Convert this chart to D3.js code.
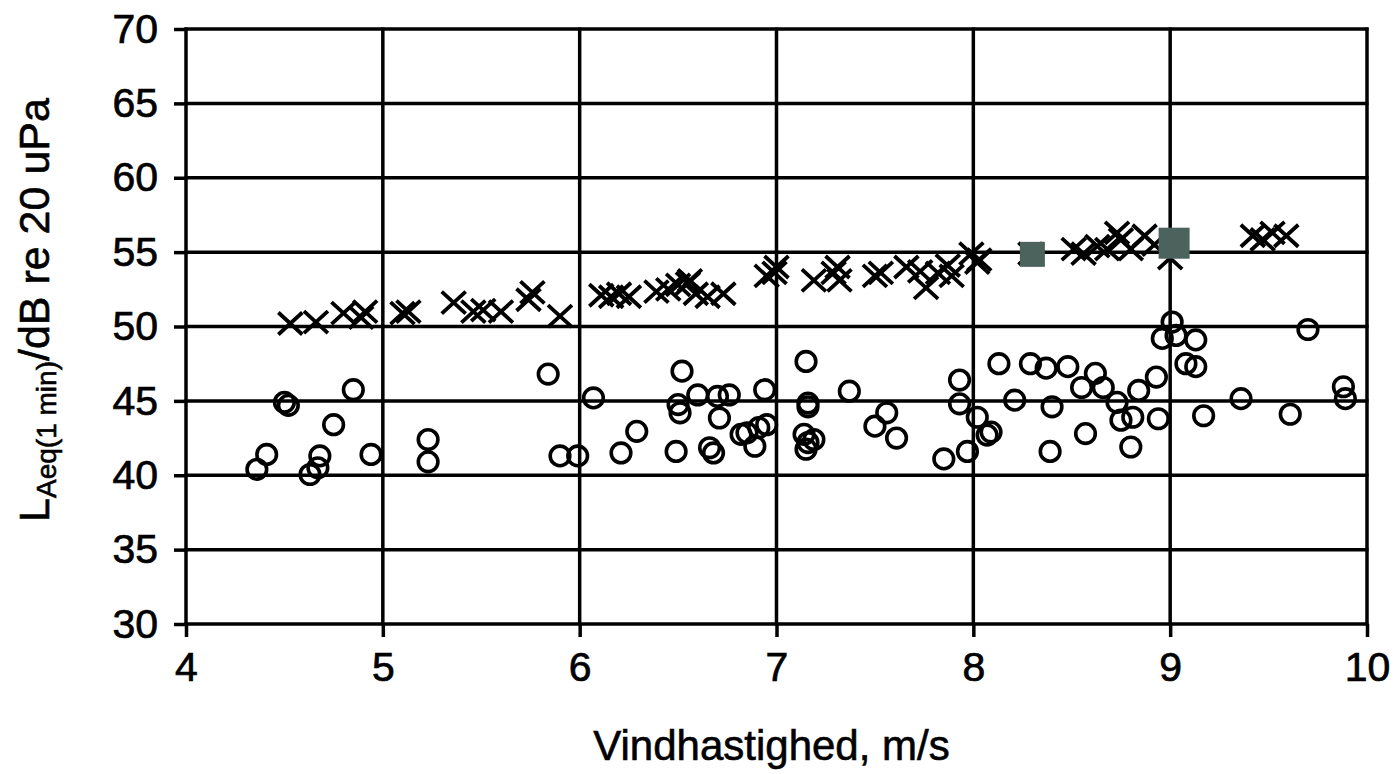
<!DOCTYPE html>
<html>
<head>
<meta charset="utf-8">
<script src="https://cdn.jsdelivr.net/npm/d3@7"></script>
<style>
  html, body { margin: 0; padding: 0; background: #fff; }
  svg { display: block; font-family: "Liberation Sans", Arial, sans-serif; }
</style>
</head>
<body>
<div id="chart"></div>
<script>
// wind speed (m/s) / level (dB)
const crossX = [4.53, 4.66, 4.80, 4.89, 4.91, 5.10, 5.13, 5.36, 5.46, 5.51, 5.60, 5.74, 5.76, 5.90,
  6.11, 6.16, 6.20, 6.25, 6.39, 6.45, 6.50, 6.55, 6.56, 6.59, 6.65, 6.73, 6.95, 6.99, 7.00,
  7.19, 7.29, 7.31, 7.32, 7.50, 7.53, 7.66, 7.73, 7.76, 7.82, 7.87, 7.89, 7.99, 8.02, 8.03,
  8.29, 8.51, 8.56, 8.63, 8.68, 8.73, 8.75, 8.80, 8.87, 8.92, 9.00, 9.42, 9.47, 9.52, 9.59];
const crossY = [50.2, 50.3, 50.9, 50.6, 51.0, 50.9, 51.0, 51.6, 51.0, 51.1, 51.0, 51.8, 52.3, 50.7,
  52.1, 52.0, 52.2, 52.0, 52.35, 52.5, 52.8, 52.9, 53.1, 52.2, 52.0, 52.2, 53.4, 53.6, 54.0,
  53.1, 53.6, 54.0, 53.1, 53.4, 53.6, 54.0, 53.7, 52.6, 53.6, 54.1, 53.4, 54.9, 54.3, 54.5,
  54.9, 55.2, 54.9, 55.4, 55.2, 56.3, 55.85, 55.2, 56.1, 55.5, 54.6, 56.1, 55.85, 56.3, 56.1];

const circleX = [4.36, 4.41, 4.50, 4.52, 4.63, 4.67, 4.68, 4.75, 4.85, 4.94, 5.23, 5.23, 5.84, 5.90, 5.99,
  6.07, 6.21, 6.29, 6.49, 6.50, 6.51, 6.52, 6.60, 6.66, 6.68, 6.70, 6.76, 6.71, 6.82, 6.85, 6.89,
  6.91, 6.95, 6.94, 7.15, 7.16, 7.16, 7.14, 7.16, 7.15, 7.19, 7.37, 7.50, 7.56, 7.61, 7.85, 7.93,
  7.93, 7.97, 8.02, 8.07, 8.09, 8.13, 8.21, 8.29, 8.37, 8.39, 8.40, 8.48, 8.55, 8.57, 8.62, 8.66,
  8.73, 8.75, 8.80, 8.81, 8.84, 8.93, 8.94, 8.96, 9.01, 9.03, 9.13, 9.08, 9.13, 9.17, 9.36, 9.61,
  9.70, 9.88, 9.89];
const circleY = [40.4, 41.4, 44.9, 44.7, 40.05, 40.5, 41.3, 43.4, 45.75, 41.4, 42.4, 40.9, 46.8, 41.3, 41.3,
  45.2, 41.5, 42.95, 41.6, 44.75, 44.2, 47.0, 45.4, 41.85, 41.5, 45.3, 45.4, 43.85, 42.75, 42.85, 41.95,
  43.2, 43.4, 45.75, 47.65, 44.85, 44.6, 42.75, 42.2, 41.75, 42.4, 45.65, 43.3, 44.2, 42.5, 41.1, 46.4,
  44.8, 41.6, 43.9, 42.7, 42.9, 47.5, 45.05, 47.5, 47.2, 41.6, 44.6, 47.3, 45.9, 42.8, 46.85, 45.9,
  44.9, 43.7, 41.9, 43.9, 45.7, 46.6, 43.8, 49.2, 50.3, 49.4, 49.1, 47.5, 47.3, 44.0, 45.15, 44.1,
  49.8, 45.95, 45.15];

// highlighted points (grey squares)
const squareX = [8.30, 9.02];
const squareY = [54.85, 55.6];
const squareSize = [25, 31];

const xTicks = [4, 5, 6, 7, 8, 9, 10];
const yTicks = [30, 35, 40, 45, 50, 55, 60, 65, 70];

class ScatterChart {
    margin = { top: 29, right: 28, bottom: 150, left: 186 };

    constructor(container) {
        this.svg = d3.select(container).append("svg");
    }

    create({ size }) {
        this.size = size;
        this.width = size.width - this.margin.left - this.margin.right;
        this.height = size.height - this.margin.top - this.margin.bottom;
        this.svg.attr("width", size.width).attr("height", size.height);
        this.g = this.svg.append("g")
            .attr("transform", `translate(${this.margin.left},${this.margin.top})`);
    }

    render() {
        const x = d3.scaleLinear().domain([4, 10]).range([0, this.width]);
        const y = d3.scaleLinear().domain([30, 70]).range([this.height, 0]);

        // axes (ticks + labels only)
        const yAxis = this.g.append("g")
            .call(d3.axisLeft(y).tickValues(yTicks).tickFormat(d3.format("d"))
                .tickSize(12).tickPadding(16));
        const xAxis = this.g.append("g")
            .attr("transform", `translate(0,${this.height})`)
            .call(d3.axisBottom(x).tickValues(xTicks).tickFormat(d3.format("d"))
                .tickSize(13).tickPadding(15));
        [xAxis, yAxis].forEach(a => {
            a.select(".domain").remove();
            a.selectAll("line").attr("stroke", "#000").attr("stroke-width", 3.5);
            a.selectAll("text").attr("fill", "#000")
                .attr("stroke", "#000").attr("stroke-width", 0.7)
                .attr("font-size", "41px")
                .attr("font-family", "'Liberation Sans', Arial, sans-serif");
        });

        // grid: every tick in both directions, frame included
        this.g.append("g").selectAll("line")
            .data(yTicks)
            .join("line")
            .attr("x1", -1.5).attr("x2", this.width + 1.5)
            .attr("y1", d => y(d)).attr("y2", d => y(d))
            .attr("stroke", "#000").attr("stroke-width", 3.5);
        this.g.append("g").selectAll("line")
            .data(xTicks)
            .join("line")
            .attr("x1", d => x(d)).attr("x2", d => x(d))
            .attr("y1", -1.5).attr("y2", this.height + 1.5)
            .attr("stroke", "#000").attr("stroke-width", 3.5);

        // circles
        this.g.append("g").selectAll("circle")
            .data(d3.range(circleX.length))
            .join("circle")
            .attr("cx", i => x(circleX[i]))
            .attr("cy", i => y(circleY[i]))
            .attr("r", 9.8)
            .attr("fill", "none")
            .attr("stroke", "#000")
            .attr("stroke-width", 3.6);

        // crosses
        const cw = 12, ch = 11;
        this.g.append("g").selectAll("path")
            .data(d3.range(crossX.length))
            .join("path")
            .attr("transform", i => `translate(${x(crossX[i])},${y(crossY[i])})`)
            .attr("d", `M${-cw},${-ch}L${cw},${ch}M${-cw},${ch}L${cw},${-ch}`)
            .attr("fill", "none")
            .attr("stroke", "#000")
            .attr("stroke-width", 3.8);

        // grey squares
        this.g.append("g").selectAll("rect")
            .data(d3.range(squareX.length))
            .join("rect")
            .attr("x", i => x(squareX[i]) - squareSize[i] / 2)
            .attr("y", i => y(squareY[i]) - squareSize[i] / 2)
            .attr("width", i => squareSize[i])
            .attr("height", i => squareSize[i])
            .attr("fill", "#4c625c");

        // axis titles
        this.svg.append("text")
            .attr("x", this.margin.left + this.width / 2 - 5)
            .attr("y", 760)
            .attr("text-anchor", "middle")
            .attr("font-size", "42px")
            .attr("stroke", "#000").attr("stroke-width", 0.6)
            .text("Vindhastighed, m/s");

        const yTitle = this.svg.append("text")
            .attr("transform", "translate(49,310) rotate(-90)")
            .attr("text-anchor", "middle")
            .attr("font-size", "43px")
            .attr("stroke", "#000").attr("stroke-width", 0.6);
        yTitle.append("tspan").text("L");
        yTitle.append("tspan").attr("font-size", "28px").attr("dy", 7).text("Aeq(1 min)");
        yTitle.append("tspan").attr("dy", -7).text("/dB re 20 uPa");
    }
}

const chart = new ScatterChart("#chart");
chart.create({ size: { width: 1395, height: 774 } });
chart.render();
</script>
</body>
</html>
